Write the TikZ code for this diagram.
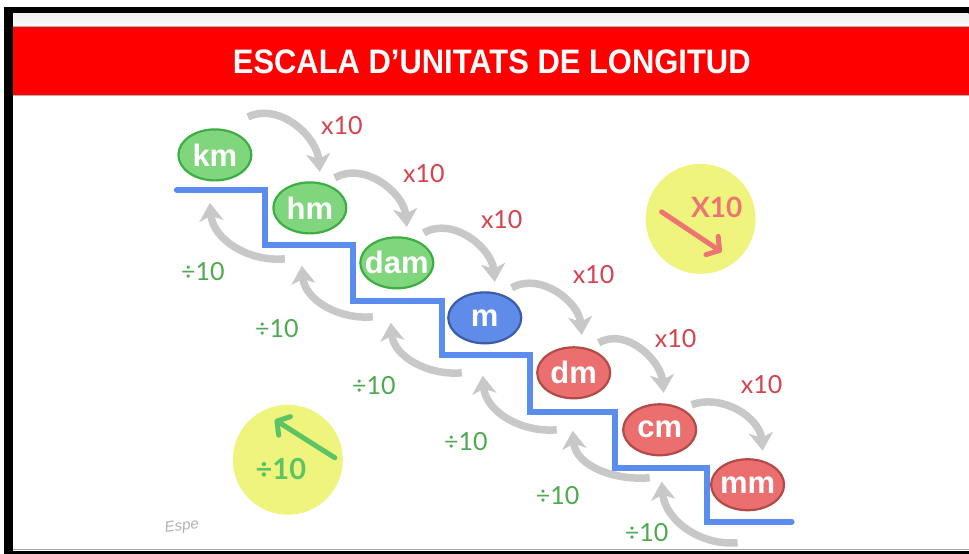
\documentclass[tikz,border=0pt]{standalone}
\usepackage{fontspec}
\setmainfont{Liberation Sans}
\newfontfamily\labelfont{Lato}
\usetikzlibrary{arrows.meta,shapes.geometric,positioning}

\definecolor{banner}{HTML}{FF0000}
\definecolor{stair}{HTML}{5B8DEF}
\definecolor{greenfill}{HTML}{7FD67C}
\definecolor{greenline}{HTML}{3DAE42}
\definecolor{bluefill}{HTML}{5E8CE8}
\definecolor{blueline}{HTML}{3B5CA6}
\definecolor{redfill}{HTML}{EC6F6F}
\definecolor{redline}{HTML}{B24A4A}
\definecolor{arrowgray}{HTML}{C8C8C8}
\definecolor{multred}{HTML}{D6424E}
\definecolor{divgreen}{HTML}{4DAA50}
\definecolor{sunny}{HTML}{EEF47C}
\definecolor{pinkarrow}{HTML}{EE7474}
\definecolor{greenarrow}{HTML}{5DC465}

\begin{document}
\begin{tikzpicture}[
        x=1pt, y=1pt,
        unit/.style={ellipse, draw, line width=2.2pt, minimum width=73pt, minimum height=51pt, inner sep=0pt, text=white, font=\fontsize{31}{31}\selectfont\bfseries},
        fwd/.style={-{Stealth[length=18pt,width=24pt,inset=5pt]}, line width=7.5pt, draw=arrowgray},
        bwd/.style={fwd},
        mult/.style={text=multred, font=\labelfont\fontsize{25}{25}\selectfont},
        div/.style={text=divgreen, font=\labelfont\fontsize{25}{25}\selectfont},
        hint/.style={circle, fill=sunny, minimum size=110pt, inner sep=0pt}
    ]
        % frame and title banner
        \fill[white] (0,0) rectangle (969,554);
        \fill[black] (4,540) rectangle (969,547);
        \shade[top color=gray!12, bottom color=gray!4] (13,527) rectangle (969,540);
        \fill[banner] (13,458) rectangle (969,527);
        \draw[gray!60, line width=1pt] (13,527) -- (969,527) (13,458) -- (969,458);
        \fill[black] (4,0) rectangle (13,547);
        \fill[black] (4,0) rectangle (969,3);
        \draw[gray!70] (13,5) -- (969,5);
        \node[text=white, font=\fontsize{34}{34}\selectfont\bfseries] (title) at (492,492) {\scalebox{0.91}[1]{ESCALA D’UNITATS DE LONGITUD}};

        % stairs
        \draw[stair, line width=6pt, line cap=round] (177,364) -| (265,309) -| (353,253) -| (442,199) -| (530,142) -| (615,86) -| (707,32) -- (792,32);

        \node[unit, fill=greenfill, draw=greenline] (km) at (215,399) {\makebox[0pt]{km}};
        \node[unit, fill=greenfill, draw=greenline] (hm) at (310,346) {\makebox[0pt]{hm}};
        \node[unit, fill=greenfill, draw=greenline] (dam) at (397,291) {\makebox[0pt]{dam}};
        \node[unit, fill=bluefill, draw=blueline] (m) at (485,236) {\makebox[0pt]{m}};
        \node[unit, fill=redfill, draw=redline] (dm) at (574,181) {\makebox[0pt]{dm}};
        \node[unit, fill=redfill, draw=redline] (cm) at (660,124) {\makebox[0pt]{cm}};
        \node[unit, fill=redfill, draw=redline] (mm) at (748,69) {\makebox[0pt]{mm}};

        % x10 going down
        \draw[fwd] ([shift={(33,38)}]km.center) to[out=25,in=95] ([shift={(10,36)}]hm.center);
        \draw[fwd] ([shift={(25,30)}]hm.center) to[out=30,in=95] ([shift={(10,36)}]dam.center);
        \draw[fwd] ([shift={(27,30)}]dam.center) to[out=30,in=95] ([shift={(10,36)}]m.center);
        \draw[fwd] ([shift={(27,30)}]m.center) to[out=30,in=95] ([shift={(8,38)}]dm.center);
        \draw[fwd] ([shift={(25,30)}]dm.center) to[out=30,in=95] ([shift={(4,37)}]cm.center);
        \draw[fwd] ([shift={(32,25)}]cm.center) to[out=20,in=95] ([shift={(15,34)}]mm.center);

        \node[mult] (x1) at (342,428) {x10};
        \node[mult] (x2) at (424,380) {x10};
        \node[mult] (x3) at (502,334) {x10};
        \node[mult] (x4) at (594,279) {x10};
        \node[mult] (x5) at (676,215) {x10};
        \node[mult] (x6) at (762,169) {x10};

        % :10 going up
        \draw[bwd] ([shift={(-25,-51)}]hm.center) to[out=185,in=-85] ([shift={(-5,-48)}]km.center);
        \draw[bwd] ([shift={(-24,-54)}]dam.center) to[out=185,in=-85] ([shift={(-8,-58)}]hm.center);
        \draw[bwd] ([shift={(-23,-55)}]m.center) to[out=185,in=-85] ([shift={(-6,-60)}]dam.center);
        \draw[bwd] ([shift={(-17,-57)}]dm.center) to[out=185,in=-85] ([shift={(-2,-58)}]m.center);
        \draw[bwd] ([shift={(-10,-48)}]cm.center) to[out=185,in=-85] ([shift={(-1,-58)}]dm.center);
        \draw[bwd] ([shift={(-10,-58)}]mm.center) to[out=185,in=-85] ([shift={(2,-52)}]cm.center);

        \node[div] (d1) at (203,282) {÷10};
        \node[div] (d2) at (277,225) {÷10};
        \node[div] (d3) at (374,168) {÷10};
        \node[div] (d4) at (466,112) {÷10};
        \node[div] (d5) at (558,58) {÷10};
        \node[div] (d6) at (647,21) {÷10};

        % hint circles
        \node[hint] (multhint) at (701,335) {};
        \draw[pinkarrow, line width=5pt, line cap=round, -{Straight Barb[length=9pt,width=22pt,round]}] ([shift={(-39,7)}]multhint.center) -- ([shift={(21,-33)}]multhint.center);
        \node[text=pinkarrow, font=\labelfont\bfseries\fontsize{28}{28}\selectfont] (multtxt) at (717,347) {X10};

        \node[hint] (divhint) at (288,94) {};
        \draw[greenarrow, line width=5pt, line cap=round, -{Straight Barb[length=9pt,width=22pt,round]}] ([shift={(47,2)}]divhint.center) -- ([shift={(-13,40)}]divhint.center);
        \node[text=greenarrow, font=\labelfont\bfseries\fontsize{29}{29}\selectfont] (divtxt) at (281,85) {÷10};

        \node[text=gray!60, font=\itshape\fontsize{15}{15}\selectfont, rotate=8] (sign) at (182,27) {Espe};
    \end{tikzpicture}
\end{document}
